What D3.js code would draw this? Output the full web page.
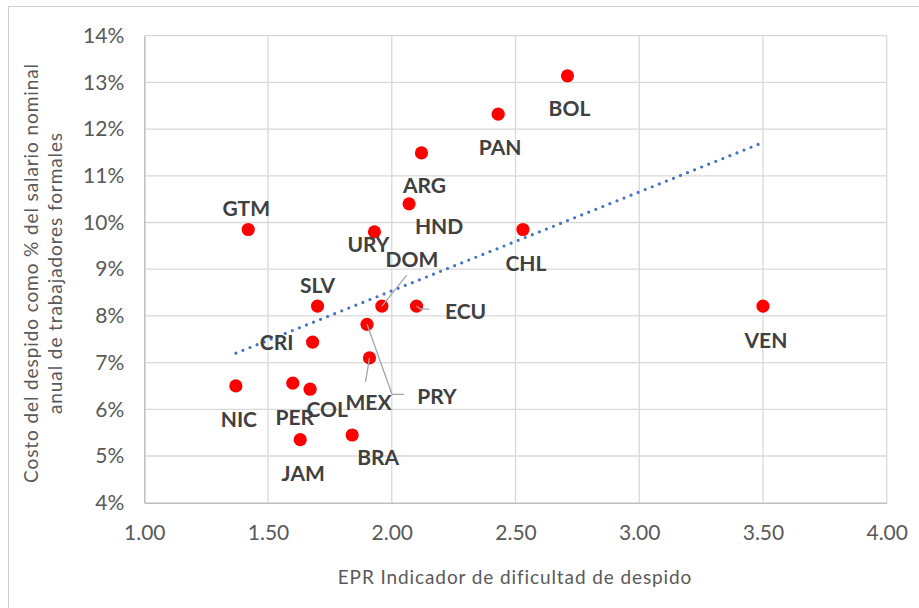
<!DOCTYPE html>
<html>
<head>
<meta charset="utf-8">
<script src="https://cdn.jsdelivr.net/npm/d3@7"></script>
<style>
  body { margin: 0; background: #fff; }
  svg { display: block; font-family: Lato, "Open Sans", sans-serif; }
</style>
</head>
<body>
<svg id="chart" width="919" height="608"></svg>
<script>
// Country codes, EPR index (x) and dismissal cost as % of annual wage (y)
var countries = ["BOL", "PAN", "ARG", "HND", "GTM", "URY", "CHL", "SLV", "DOM", "ECU",
                 "VEN", "PRY", "CRI", "MEX", "NIC", "PER", "COL", "JAM", "BRA"];
var eprIndex  = [2.71, 2.43, 2.12, 2.07, 1.42, 1.93, 2.53, 1.70, 1.96, 2.10,
                 3.50, 1.90, 1.68, 1.91, 1.37, 1.60, 1.67, 1.63, 1.84];
var costPct   = [13.14, 12.32, 11.49, 10.40, 9.85, 9.80, 9.85, 8.21, 8.21, 8.21,
                 8.21, 7.82, 7.44, 7.10, 6.50, 6.56, 6.43, 5.35, 5.45];

var xTicks = [1.00, 1.50, 2.00, 2.50, 3.00, 3.50, 4.00];
var yTicks = [4, 5, 6, 7, 8, 9, 10, 11, 12, 13, 14];

var svg = d3.select("#chart");

// outer chart border (cropped on right / bottom)
svg.append("rect")
    .attr("x", 8.5).attr("y", 6.5)
    .attr("width", 940).attr("height", 640)
    .attr("fill", "none")
    .attr("stroke", "#d0d0d0");

var x = d3.scaleLinear().domain([1, 4]).range([144.3, 886.7]);
var y = d3.scaleLinear().domain([4, 14]).range([502.7, 35.7]);

// gridlines
svg.append("g").selectAll("line")
    .data(xTicks.slice(1))
    .enter().append("line")
      .attr("x1", function(d) { return x(d); })
      .attr("x2", function(d) { return x(d); })
      .attr("y1", y(14)).attr("y2", y(4))
      .attr("stroke", "#d9d9d9").attr("stroke-width", 1.3);

svg.append("g").selectAll("line")
    .data(yTicks.slice(1))
    .enter().append("line")
      .attr("x1", x(1)).attr("x2", x(4))
      .attr("y1", function(d) { return y(d); })
      .attr("y2", function(d) { return y(d); })
      .attr("stroke", "#d9d9d9").attr("stroke-width", 1.3);

// axes
var xAxis = d3.axisBottom(x).tickValues(xTicks).tickFormat(d3.format(".2f")).tickSize(0).tickPadding(22);
var yAxis = d3.axisLeft(y).tickValues(yTicks).tickFormat(function(d) { return d + "%"; }).tickSize(0).tickPadding(20);

var gx = svg.append("g").attr("transform", "translate(0," + y(4) + ")").call(xAxis);
var gy = svg.append("g").attr("transform", "translate(" + x(1) + ",0)").call(yAxis);

[gx, gy].forEach(function(g) {
  g.select(".domain").attr("stroke", "#bfbfbf").attr("stroke-width", 1.5);
  g.selectAll("text")
    .attr("fill", "#595959")
    .style("font-family", "Lato, sans-serif")
    .style("font-size", "21px");
});

// axis titles
svg.append("text")
    .attr("x", 515).attr("y", 584)
    .attr("text-anchor", "middle")
    .attr("fill", "#595959")
    .style("font-size", "19px")
    .style("letter-spacing", "0.9px")
    .text("EPR Indicador de dificultad de despido");

var yTitle = svg.append("text")
    .attr("transform", "translate(0,273) rotate(-90)")
    .attr("text-anchor", "middle")
    .attr("fill", "#595959")
    .style("font-size", "19px")
    .style("letter-spacing", "0.9px");
yTitle.append("tspan").attr("x", 0).attr("y", 38).text("Costo del despido como % del salario nominal");
yTitle.append("tspan").attr("x", 0).attr("y", 62).text("anual de trabajadores formales");

// linear trendline (least squares over the data)
var mx = d3.mean(eprIndex), my = d3.mean(costPct);
var sxy = d3.sum(eprIndex, function(v, i) { return (v - mx) * (costPct[i] - my); });
var sxx = d3.sum(eprIndex, function(v) { return (v - mx) * (v - mx); });
var slope = sxy / sxx, icpt = my - slope * mx;
var xExt = d3.extent(eprIndex);

svg.append("line")
    .attr("x1", x(xExt[0])).attr("y1", y(icpt + slope * xExt[0]))
    .attr("x2", x(xExt[1])).attr("y2", y(icpt + slope * xExt[1]))
    .attr("stroke", "#4472c4")
    .attr("stroke-width", 3.2)
    .attr("stroke-linecap", "round")
    .attr("stroke-dasharray", "0 7.6");

// points
var pts = countries.map(function(c, i) { return { id: c, x: eprIndex[i], y: costPct[i] }; });

svg.append("g").selectAll("circle")
    .data(pts)
    .enter().append("circle")
      .attr("cx", function(d) { return x(d.x); })
      .attr("cy", function(d) { return y(d.y); })
      .attr("r", 6.6)
      .attr("fill", "#ff0000");

// label placement relative to the point (px), plus leader lines
var labelOffset = {
  BOL: [2, 33], PAN: [2, 33], ARG: [3, 33], HND: [30, 23], GTM: [-2, -21],
  URY: [-6, 13], CHL: [3, 34], SLV: [0, -21], DOM: [30, -47], ECU: [49, 5],
  VEN: [3, 34], PRY: [70, 72], CRI: [-36, 0], MEX: [-1, 45], NIC: [3, 33],
  PER: [2, 34], COL: [17, 20], JAM: [3, 34], BRA: [26, 22]
};
var leaders = {
  DOM: [[0, 0], [25, -31]],
  ECU: [[0, 0], [4, 3], [13, 3]],
  PRY: [[0, 0], [25, 70], [37, 70]],
  MEX: [[0, 0], [-4, 24]]
};

var lineGen = d3.line();
svg.append("g").selectAll("path")
    .data(pts.filter(function(d) { return leaders[d.id]; }))
    .enter().append("path")
      .attr("d", function(d) {
        var cx = x(d.x), cy = y(d.y);
        return lineGen(leaders[d.id].map(function(p) { return [cx + p[0], cy + p[1]]; }));
      })
      .attr("fill", "none")
      .attr("stroke", "#a6a6a6")
      .attr("stroke-width", 1.3);

svg.append("g").selectAll("text")
    .data(pts)
    .enter().append("text")
      .attr("x", function(d) { return x(d.x) + labelOffset[d.id][0]; })
      .attr("y", function(d) { return y(d.y) + labelOffset[d.id][1]; })
      .attr("dy", "0.36em")
      .attr("text-anchor", "middle")
      .attr("fill", "#404040")
      .style("font-size", "21px")
      .style("font-weight", "bold")
      .text(function(d) { return d.id; });
</script>
</body>
</html>
